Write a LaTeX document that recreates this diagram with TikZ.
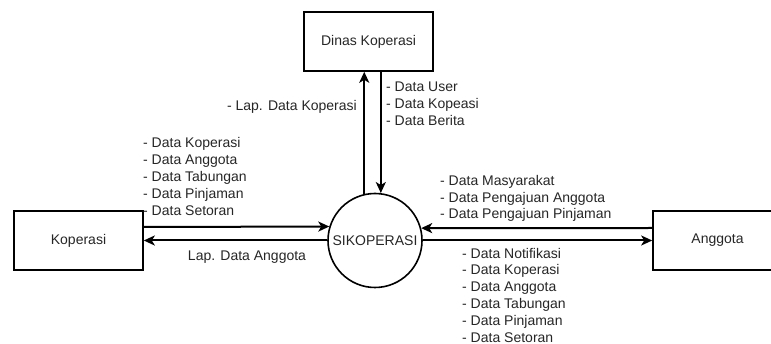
\documentclass[tikz,border=0pt]{standalone}
\usepackage{fontspec}
\setmainfont{Liberation Sans}
\usetikzlibrary{arrows.meta,calc}
\begin{document}
\begin{tikzpicture}[x=1pt,y=-1pt,
  every node/.style={font=\fontsize{14}{16.8}\selectfont, text=black!85},
  ent/.style={draw=black, line width=1.6pt, minimum width=129pt, minimum height=59pt, inner sep=0pt},
  proc/.style={draw=black, line width=1.6pt, circle, minimum size=94pt, inner sep=0pt},
  lbl/.style={inner sep=0pt, align=left},
  arr/.style={draw=black, line width=2pt, -{Stealth[length=11pt,width=10pt,inset=3pt]}}
]
\useasboundingbox (0,0) rectangle (771,344);
\begin{scope}
\clip (0,0) rectangle (771,344);
\node[ent] (din) at (368.5,41.5) {Dinas Koperasi};
\node[ent] (kop) at (78.5,240.5) {Koperasi};
\node[ent] (ang) at (717.5,240.5) {Anggota};
\node[proc] (sik) at (375,240.5) {SIKOPERASI};
\end{scope}
% vertical flows
\draw[arr] (sik.103.5) -- (sik.103.5 |- din.south);
\draw[arr] (sik.83.3 |- din.south) -- (sik.83.3);
% Koperasi flows
\draw[arr] ([yshift=13.5pt]kop.east) -- (sik.163.3);
\draw[arr] (sik.180) -- (kop.east);
% Anggota flows
\draw[arr] ([yshift=12.5pt]ang.west) -- (sik.15.4);
\draw[arr] (sik.0) -- (ang.west);
% labels
\node[lbl, anchor=east] (l1) at (357,107) {- Lap. Data Koperasi};
\node[lbl, anchor=west] (l2) at (386,104) {- Data User\\- Data Kopeasi\\- Data Berita};
\node[lbl, anchor=west] (l3) at (143,176.5) {- Data Koperasi\\- Data Anggota\\- Data Tabungan\\- Data Pinjaman\\- Data Setoran};
\node[lbl] (l4) at (247,257) {Lap. Data Anggota};
\node[lbl, anchor=west] (l5) at (440,198.5) {- Data Masyarakat\\- Data Pengajuan Anggota\\- Data Pengajuan Pinjaman};
\node[lbl, anchor=west] (l6) at (462,295) {- Data Notifikasi\\- Data Koperasi\\- Data Anggota\\- Data Tabungan\\- Data Pinjaman\\- Data Setoran};
\end{tikzpicture}
\end{document}
